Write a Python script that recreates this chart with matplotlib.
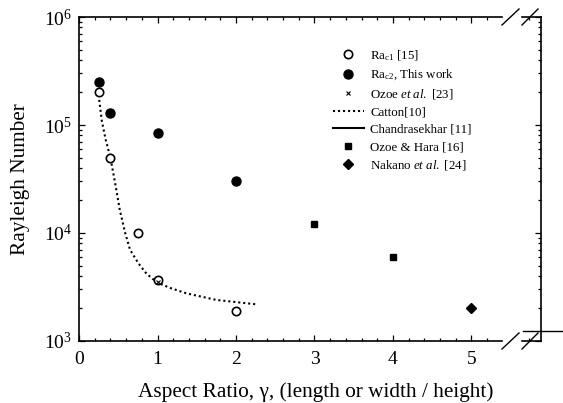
import numpy as np
import matplotlib
matplotlib.use('Agg')
import matplotlib.pyplot as plt
from matplotlib.lines import Line2D
from matplotlib.ticker import LogLocator, MultipleLocator, NullFormatter, FixedLocator

plt.rcParams['font.family'] = ['Liberation Serif', 'DejaVu Serif']
plt.rcParams['mathtext.fontset'] = 'custom'
plt.rcParams['mathtext.rm'] = 'Liberation Serif'
plt.rcParams['mathtext.it'] = 'Liberation Serif:italic'

# data
rac1_x = [0.25, 0.4, 0.75, 1.0, 2.0]
rac1_y = [2.0e5, 5.0e4, 1.0e4, 3.7e3, 1.9e3]
rac2_x = [0.25, 0.4, 1.0, 2.0]
rac2_y = [2.5e5, 1.3e5, 8.4e4, 3.0e4]
ozoe_x = [1.0]
ozoe_y = [3.5e3]
catton_x = [0.25, 0.29, 0.34, 0.4, 0.46, 0.52, 0.59, 0.65, 0.76, 0.86,
            0.99, 1.16, 1.37, 1.75, 2.25]
catton_y = [1.9e5, 1.1e5, 7.3e4, 5.0e4, 2.9e4, 1.63e4, 9.9e3, 7.0e3, 5.2e3, 4.2e3,
            3.5e3, 3.1e3, 2.76e3, 2.4e3, 2.19e3]
hara_x = [3.0, 4.0]
hara_y = [1.2e4, 6.0e3]
nakano_x = [5.0]
nakano_y = [2.0e3]

W, H = 563, 403
fig = plt.figure(figsize=(W / 100, H / 100), dpi=100)

def px_box(x0, x1, y0, y1):
    # pixel box -> figure fraction [left, bottom, width, height]
    return [x0 / W, 1 - y1 / H, (x1 - x0) / W, (y1 - y0) / H]

ax = fig.add_axes(px_box(79, 502, 17, 341))
ax2 = fig.add_axes(px_box(522, 541, 17, 341))

h_cat, = ax.plot(catton_x, catton_y, color='black', linestyle=(0, (1, 1.4)), lw=1.5,
                 label='Catton[10]', zorder=2)
h_r1, = ax.plot(rac1_x, rac1_y, 'o', mfc='white', mec='black', mew=1.2, ms=6,
                linestyle='', label=r'Ra$_{\mathrm{c1}}$ [15]', zorder=3)
h_r2, = ax.plot(rac2_x, rac2_y, 'o', color='black', ms=6.5, linestyle='',
                label=r'Ra$_{\mathrm{c2}}$, This work', zorder=3)
h_oz, = ax.plot(ozoe_x, ozoe_y, 'x', color='black', ms=3.5, mew=0.8, linestyle='',
                label=r'Ozoe $\mathit{et\ al.}$ [23]', zorder=4)
h_ch, = ax.plot([], [], color='black', lw=1.5, label='Chandrasekhar [11]')
h_oh, = ax.plot(hara_x, hara_y, 's', color='black', ms=5, linestyle='',
                label='Ozoe & Hara [16]')
h_na, = ax.plot(nakano_x, nakano_y, 'D', color='black', ms=5.5, linestyle='',
                label=r'Nakano $\mathit{et\ al.}$ [24]')

for a in (ax, ax2):
    a.set_yscale('log')
    a.set_ylim(1e3, 1e6)
    for s in a.spines.values():
        s.set_linewidth(1.2)

ax.set_xlim(0, 423 / 78.5)
ax.xaxis.set_major_locator(MultipleLocator(1))
ax.xaxis.set_minor_locator(MultipleLocator(0.2))
ax.yaxis.set_major_locator(LogLocator(base=10))
ax.yaxis.set_minor_locator(LogLocator(base=10, subs=np.arange(2, 10)))
ax.yaxis.set_minor_formatter(NullFormatter())
ax.spines['right'].set_visible(False)
ax.tick_params(which='both', direction='in', top=True, right=False, labelsize=14, width=0.9)
ax.tick_params(which='major', length=4.5)
ax.tick_params(axis='x', which='major', pad=7)
ax.tick_params(axis='y', which='major', pad=5)
ax.tick_params(which='minor', length=2.5)

# little right-hand piece after the axis break
ax2.set_xlim(0, 1)
ax2.xaxis.set_major_locator(FixedLocator([]))
ax2.xaxis.set_minor_locator(FixedLocator([0.35]))
ax2.yaxis.set_major_locator(LogLocator(base=10))
ax2.yaxis.set_minor_locator(LogLocator(base=10, subs=np.arange(2, 10)))
ax2.yaxis.set_minor_formatter(NullFormatter())
ax2.spines['left'].set_visible(False)
ax2.tick_params(which='both', direction='in', left=False, right=True, top=True,
                labelleft=False, labelbottom=False, width=0.9)
ax2.tick_params(which='major', length=4.5)
ax2.tick_params(which='minor', length=2.5)

# break marks
def px_line(x0, y0, x1, y1):
    fig.add_artist(Line2D([x0 / W, x1 / W], [1 - y0 / H, 1 - y1 / H],
                          color='black', lw=1.0, transform=fig.transFigure))

for yb in (17, 341):
    px_line(502, yb + 8, 519, yb - 8)
    px_line(522, yb + 8, 538, yb - 8)
px_line(523, 331, 563, 331)

ax.set_ylabel('Rayleigh Number', fontsize=15.3)
ax.yaxis.set_label_coords((21 - 79) / 423, 0.5)
ax.set_xlabel('Aspect Ratio, γ, (length or width / height)', fontsize=15.3)
ax.xaxis.set_label_coords((316 - 79) / 423, -(392 - 341) / 324)
ax.xaxis.label.set_va('center')
ax.yaxis.label.set_va('center')

ax.legend(handles=[h_r1, h_r2, h_oz, h_cat, h_ch, h_oh, h_na],
          loc='upper left', bbox_to_anchor=((333 - 79) / 423, (341 - 48) / 324),
          frameon=False, fontsize=9.3, handlelength=2.4, handletextpad=0.5,
          labelspacing=0.4, borderaxespad=0, borderpad=0)

fig.savefig('out.png', dpi=100)
